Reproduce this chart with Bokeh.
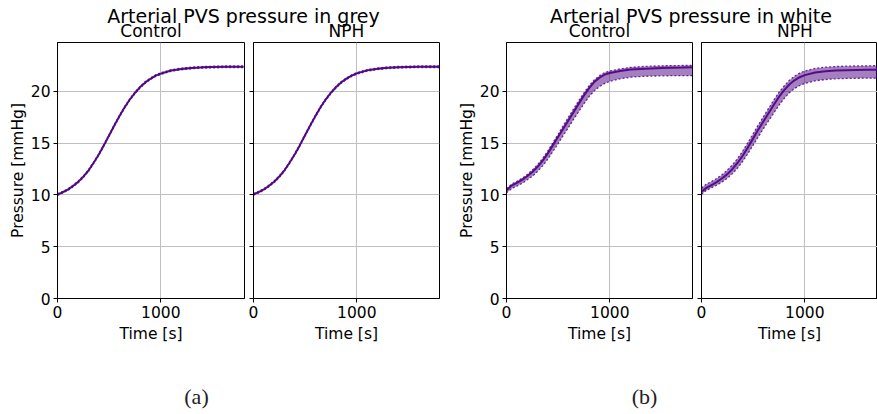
from bokeh.plotting import figure
from bokeh.layouts import column, row
from bokeh.models import Range1d, FixedTicker
from bokeh.core.properties import value
from bokeh.embed import file_html
from bokeh.resources import INLINE

# ---------------- data ----------------
time_s = [0, 50, 100, 150, 200, 250, 300, 350, 400, 450, 500, 550, 600, 650, 700,
          750, 800, 850, 900, 950, 1000, 1100, 1200, 1300, 1400, 1500, 1600, 1700, 1800]

grey_ctrl_mean = [10.03, 10.25, 10.5, 10.85, 11.25, 11.75, 12.35, 13.1, 13.9, 14.8, 15.75, 16.7, 17.6, 18.45, 19.2,
                  19.85, 20.4, 20.85, 21.2, 21.5, 21.7, 22.0, 22.15, 22.25, 22.3, 22.33, 22.35, 22.36, 22.36]
grey_ctrl_lo = [9.95, 10.17, 10.42, 10.77, 11.17, 11.67, 12.27, 13.02, 13.82, 14.72, 15.67, 16.62, 17.52, 18.37, 19.12,
                19.77, 20.32, 20.77, 21.12, 21.42, 21.62, 21.92, 22.07, 22.17, 22.22, 22.25, 22.27, 22.28, 22.28]
grey_ctrl_hi = [10.11, 10.33, 10.58, 10.93, 11.33, 11.83, 12.43, 13.18, 13.98, 14.88, 15.83, 16.78, 17.68, 18.53, 19.28,
                19.93, 20.48, 20.93, 21.28, 21.58, 21.78, 22.08, 22.23, 22.33, 22.38, 22.41, 22.43, 22.44, 22.44]

grey_nph_mean = [10.05, 10.27, 10.52, 10.87, 11.27, 11.77, 12.37, 13.12, 13.92, 14.82, 15.77, 16.72, 17.62, 18.47, 19.22,
                 19.86, 20.41, 20.86, 21.21, 21.5, 21.72, 22.01, 22.16, 22.26, 22.31, 22.34, 22.36, 22.37, 22.37]
grey_nph_lo = [9.97, 10.19, 10.44, 10.79, 11.19, 11.69, 12.29, 13.04, 13.84, 14.74, 15.69, 16.64, 17.54, 18.39, 19.14,
               19.78, 20.33, 20.78, 21.13, 21.42, 21.64, 21.93, 22.08, 22.18, 22.23, 22.26, 22.28, 22.29, 22.29]
grey_nph_hi = [10.13, 10.35, 10.6, 10.95, 11.35, 11.85, 12.45, 13.2, 14.0, 14.9, 15.85, 16.8, 17.7, 18.55, 19.3,
               19.94, 20.49, 20.94, 21.29, 21.58, 21.8, 22.09, 22.24, 22.34, 22.39, 22.42, 22.44, 22.45, 22.45]

white_ctrl_mean = [10.45, 10.9, 11.15, 11.45, 11.8, 12.2, 12.7, 13.3, 14.0, 14.8, 15.6, 16.4, 17.2, 18.0, 18.8,
                   19.6, 20.3, 20.9, 21.3, 21.6, 21.75, 21.95, 22.1, 22.15, 22.2, 22.25, 22.27, 22.28, 22.3]
white_ctrl_lo = [10.2, 10.6, 10.85, 11.1, 11.45, 11.8, 12.25, 12.8, 13.45, 14.2, 14.95, 15.75, 16.5, 17.3, 18.05,
                 18.8, 19.5, 20.05, 20.45, 20.75, 20.95, 21.2, 21.35, 21.42, 21.46, 21.48, 21.5, 21.5, 21.5]
white_ctrl_hi = [10.6, 11.05, 11.3, 11.6, 11.95, 12.4, 12.9, 13.5, 14.25, 15.05, 15.85, 16.7, 17.5, 18.3, 19.1,
                 19.85, 20.55, 21.1, 21.5, 21.8, 21.95, 22.15, 22.3, 22.37, 22.42, 22.45, 22.47, 22.48, 22.5]

white_nph_mean = [10.3, 10.7, 10.95, 11.25, 11.6, 12.0, 12.5, 13.1, 13.8, 14.6, 15.45, 16.3, 17.1, 17.9, 18.7,
                  19.45, 20.1, 20.65, 21.05, 21.35, 21.55, 21.8, 21.93, 22.0, 22.03, 22.05, 22.06, 22.06, 22.06]
white_nph_lo = [10.05, 10.45, 10.7, 10.95, 11.25, 11.6, 12.05, 12.6, 13.25, 14.0, 14.8, 15.6, 16.4, 17.15, 17.9,
                18.65, 19.3, 19.85, 20.25, 20.55, 20.75, 21.0, 21.13, 21.2, 21.23, 21.25, 21.26, 21.26, 21.26]
white_nph_hi = [10.65, 11.05, 11.3, 11.6, 11.95, 12.4, 12.9, 13.5, 14.25, 15.05, 15.9, 16.75, 17.55, 18.35, 19.15,
                19.9, 20.5, 21.05, 21.45, 21.75, 21.95, 22.2, 22.32, 22.38, 22.42, 22.44, 22.45, 22.46, 22.46]

y_ticks = [0, 5, 10, 15, 20]
x_ticks = [0, 1000]
suptitles = ["Arterial PVS pressure in grey", "Arterial PVS pressure in white"]
subtitles = ["Control", "NPH", "Control", "NPH"]
captions = ["(a)", "(b)"]

# ---------------- style ----------------
FONT = "DejaVu Sans"
COLOR = "#4B0082"
GRID = "#bfbfbf"
TICK_FS = "15.5px"
W = 877

def make_panel(mean, lo, hi, width, bl, br, frame_w, show_labels):
    x_end = 1800 * frame_w / 186.0
    p = figure(width=width, height=310, x_range=Range1d(0, x_end), y_range=Range1d(0, 24.7),
               output_backend="svg", toolbar_location=None, title=None,
               min_border_left=bl, min_border_right=br, min_border_top=2, min_border_bottom=52)
    p.outline_line_color = "black"
    p.outline_line_width = 1
    p.background_fill_color = "white"
    p.border_fill_color = "white"
    for ax in (p.xaxis[0], p.yaxis[0]):
        ax.axis_line_color = "black"
        ax.major_tick_out = 4
        ax.major_tick_in = 0
        ax.minor_tick_line_color = None
        ax.major_label_text_font = FONT
        ax.major_label_text_font_size = TICK_FS
        ax.major_label_text_color = "black"
        ax.axis_label_text_font = FONT
        ax.axis_label_text_font_size = TICK_FS
        ax.axis_label_text_font_style = "normal"
        ax.axis_label_text_color = "black"
        ax.major_label_standoff = 3
    p.xaxis.ticker = FixedTicker(ticks=x_ticks)
    p.yaxis.ticker = FixedTicker(ticks=y_ticks)
    p.xaxis.axis_label = "Time [s]"
    p.xaxis.axis_label_standoff = 4
    if show_labels:
        p.yaxis.axis_label = "Pressure [mmHg]"
        p.yaxis.axis_label_standoff = 1
    else:
        p.yaxis.major_label_overrides = {t: "" for t in y_ticks}
        p.yaxis.major_label_standoff = 0
    p.xgrid.ticker = FixedTicker(ticks=x_ticks)
    p.ygrid.ticker = FixedTicker(ticks=y_ticks)
    for g in (p.xgrid[0], p.ygrid[0]):
        g.grid_line_color = GRID
        g.grid_line_width = 1
    p.varea(x=time_s, y1=lo, y2=hi, fill_color=COLOR, fill_alpha=0.5)
    p.line(time_s, lo, line_color=COLOR, line_width=1.3, line_dash="2 2", line_alpha=0.8)
    p.line(time_s, hi, line_color=COLOR, line_width=1.3, line_dash="2 2", line_alpha=0.8)
    p.line(time_s, mean, line_color=COLOR, line_width=2, line_alpha=0.9)
    return p

p1 = make_panel(grey_ctrl_mean, grey_ctrl_lo, grey_ctrl_hi, 248, 57, 4, 187, True)
p2 = make_panel(grey_nph_mean, grey_nph_lo, grey_nph_hi, 195, 5, 4, 186, False)
p3 = make_panel(white_ctrl_mean, white_ctrl_lo, white_ctrl_hi, 253, 63, 4, 186, True)
p4 = make_panel(white_nph_mean, white_nph_lo, white_nph_hi, 181, 5, 0, 176, False)

def strip(h):
    s = figure(width=W, height=h, x_range=Range1d(0, W), y_range=Range1d(h, 0),
               output_backend="svg", toolbar_location=None, min_border=0, title=None,
               x_axis_location=None, y_axis_location=None)
    s.grid.visible = False
    s.outline_line_color = None
    s.background_fill_color = "white"
    s.border_fill_color = "white"
    return s

# text anchors (in strip pixels); Bokeh draws glyph text ~6px lower than the anchor
top = strip(40)
top.text(x=[243, 690.5], y=[15, 15], text=suptitles, text_font=value(FONT), text_font_size="19px",
         text_align="center", text_baseline="alphabetic", text_color="black")
top.text(x=[150.5, 346, 599, 794.5], y=[30, 30, 30, 30], text=subtitles, text_font=value(FONT),
         text_font_size="17px", text_align="center", text_baseline="alphabetic", text_color="black")

bottom = strip(64)
bottom.text(x=[196, 644], y=[46, 46], text=captions, text_font=value("Liberation Serif"), text_font_size="22px",
            text_align="center", text_baseline="alphabetic", text_color="#222222")

layout = column(top, row(p1, p2, p3, p4), bottom)

with open("out.html", "w") as f:
    f.write(file_html(layout, INLINE))
